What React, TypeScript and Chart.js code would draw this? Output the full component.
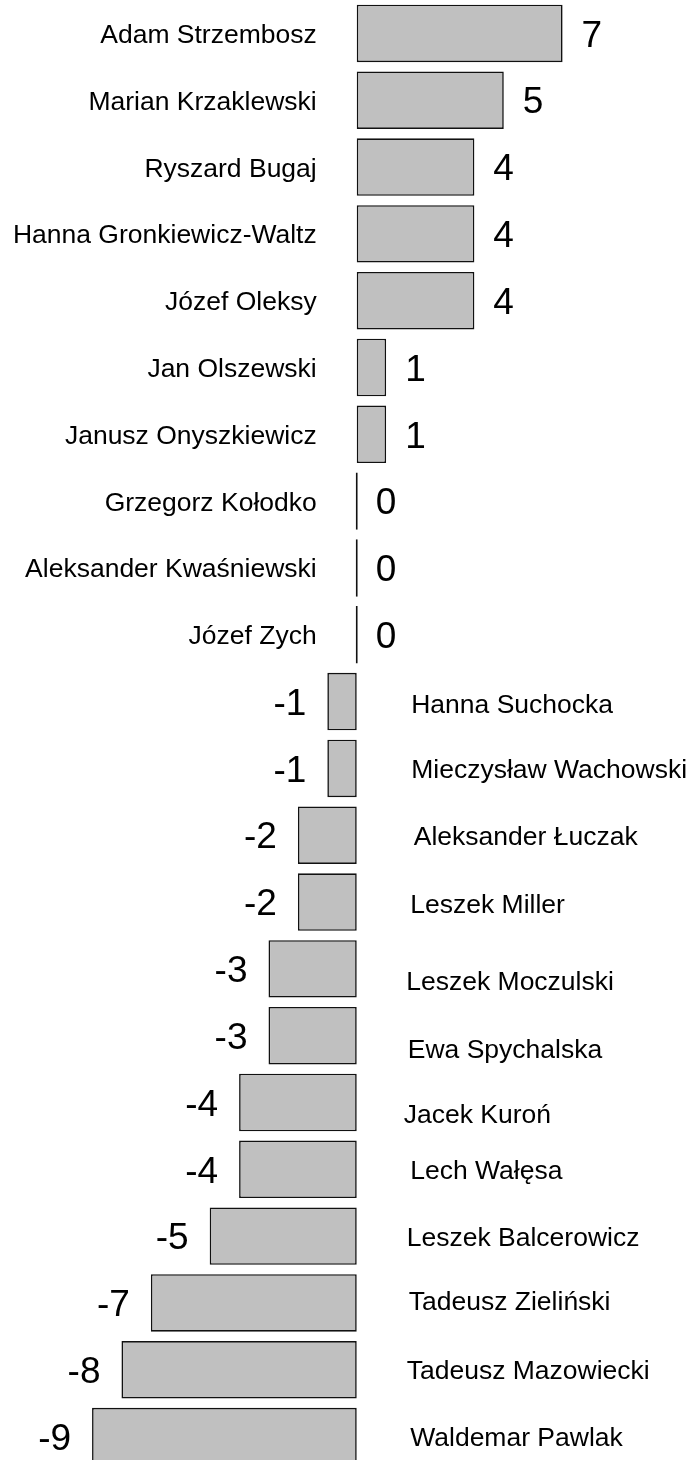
import React, { useEffect, useRef } from "react";
import { Chart, registerables } from "chart.js";

Chart.register(...registerables);

const names: string[] = [
  "Adam Strzembosz",
  "Marian Krzaklewski",
  "Ryszard Bugaj",
  "Hanna Gronkiewicz-Waltz",
  "Józef Oleksy",
  "Jan Olszewski",
  "Janusz Onyszkiewicz",
  "Grzegorz Kołodko",
  "Aleksander Kwaśniewski",
  "Józef Zych",
  "Hanna Suchocka",
  "Mieczysław Wachowski",
  "Aleksander Łuczak",
  "Leszek Miller",
  "Leszek Moczulski",
  "Ewa Spychalska",
  "Jacek Kuroń",
  "Lech Wałęsa",
  "Leszek Balcerowicz",
  "Tadeusz Zieliński",
  "Tadeusz Mazowiecki",
  "Waldemar Pawlak",
];

const values: number[] = [7, 5, 4, 4, 4, 1, 1, 0, 0, 0, -1, -1, -2, -2, -3, -3, -4, -4, -5, -7, -8, -9];

const axisMin = -12.13;
const axisMax = 11.4;

// small text nudges (px) of the repelled name labels on the right side, in row order
const rightNameDx: number[] = [0, 0, 0, 0, 0, 0, 0, 0, 0, 0, 1.5, 1.5, 4, 0.5, -3.5, -2, -6, 0.5, -3, -1, -3, 0.5];
const rightNameDy: number[] = [0, 0, 0, 0, 0, 0, 0, 0, 0, 0, 1.5, 0, 0, 1, 12, 13, 11.5, 0, 0, -2, 0, 0];

const FONT = '"Liberation Sans", Arial, sans-serif';
const NAME_SIZE = 26.5;
const VALUE_SIZE = 37;

const labelPlugin = {
  id: "sideLabels",
  afterDatasetsDraw(chart: any) {
    const ctx = chart.ctx;
    const meta = chart.getDatasetMeta(0);
    const xScale = chart.scales.x;
    const zeroX = xScale.getPixelForValue(0);
    ctx.save();
    ctx.fillStyle = "#000";
    ctx.textBaseline = "alphabetic";
    meta.data.forEach((el: any, i: number) => {
      const v = values[i];
      const endX = xScale.getPixelForValue(v);
      const y = el.y;
      if (v >= 0) {
        ctx.font = `${NAME_SIZE}px ${FONT}`;
        ctx.textAlign = "right";
        ctx.fillText(names[i], zeroX - 40, y + NAME_SIZE * 0.358);
        ctx.font = `${VALUE_SIZE}px ${FONT}`;
        ctx.textAlign = "left";
        ctx.fillText(String(v), endX + 19, y + VALUE_SIZE * 0.358);
      } else {
        ctx.font = `${NAME_SIZE}px ${FONT}`;
        ctx.textAlign = "left";
        ctx.fillText(
          names[i],
          zeroX + 53 + (rightNameDx[i] || 0),
          y + NAME_SIZE * 0.358 + (rightNameDy[i] || 0)
        );
        ctx.font = `${VALUE_SIZE}px ${FONT}`;
        ctx.textAlign = "right";
        ctx.fillText(String(v), endX - 21, y + VALUE_SIZE * 0.358);
      }
    });
    ctx.restore();
  },
};

export default function App() {
  const ref = useRef<HTMLCanvasElement | null>(null);

  useEffect(() => {
    if (!ref.current) return;
    const chart = new Chart(ref.current, {
      type: "bar",
      data: {
        labels: names,
        datasets: [
          {
            data: values,
            backgroundColor: "#c0c0c0",
            borderColor: "#111111",
            borderWidth: 1.6,
            borderSkipped: false,
            barPercentage: 0.86,
            categoryPercentage: 1,
            minBarLength: 2,
          } as any,
        ],
      },
      options: {
        indexAxis: "y",
        responsive: false,
        maintainAspectRatio: false,
        animation: false,
        layout: { padding: 0 },
        scales: {
          x: { type: "linear", display: false, min: axisMin, max: axisMax },
          y: { display: false, offset: true },
        },
        plugins: {
          legend: { display: false },
          tooltip: { enabled: false },
        },
      },
      plugins: [labelPlugin],
    });
    return () => chart.destroy();
  }, []);

  return (
    <div
      style={{
        position: "absolute",
        top: 0,
        left: 0,
        width: 692,
        height: 1460,
        overflow: "hidden",
        background: "#fff",
      }}
    >
      <canvas ref={ref} width={692} height={1470} style={{ display: "block", width: 692, height: 1470 }} />
    </div>
  );
}
